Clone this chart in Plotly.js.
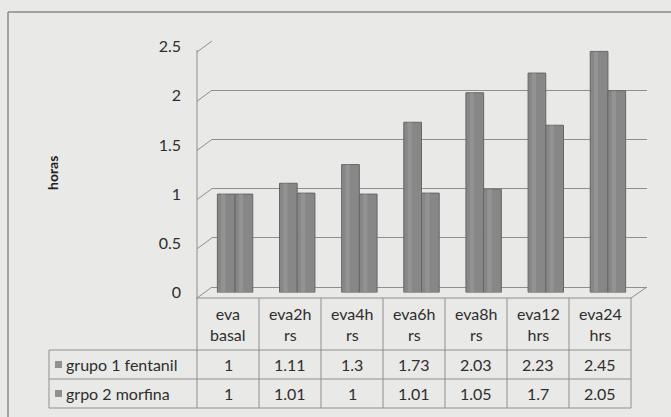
<!DOCTYPE html>
<html>
<head>
<meta charset="utf-8">
<script src="https://cdn.plot.ly/plotly-3.0.1.min.js"></script>
<style>html,body{margin:0;padding:0;background:#e9e9e7;}#chart{width:671px;height:417px;}</style>
</head>
<body>
<div id="chart"></div>
<script>
// ---- data ----
const categories = ["eva basal", "eva2h rs", "eva4h rs", "eva6h rs", "eva8h rs", "eva12 hrs", "eva24 hrs"];
const headerLabels = ["eva<br>basal", "eva2h<br>rs", "eva4h<br>rs", "eva6h<br>rs", "eva8h<br>rs", "eva12<br>hrs", "eva24<br>hrs"];
const fentanil = [1, 1.11, 1.3, 1.73, 2.03, 2.23, 2.45];
const morfina = [1, 1.01, 1, 1.01, 1.05, 1.7, 2.05];
const seriesNames = ["grupo 1 fentanil", "grpo 2 morfina"];
const tickVals = [0, 0.5, 1, 1.5, 2, 2.5];
const yTitle = "horas";

// ---- layout helpers (pixel -> paper) ----
const W = 671, H = 417;
const px = x => x / W;
const py = y => 1 - y / H;
const S = 98.4;                // px per unit
const front = {x0: 197, x1: 631, y0: 298};
const back  = {x0: 212, x1: 647, y0: 287};
const mid   = {x0: 204, x1: 639, y0: 292.5};
const ymax = 2.5;
const FONT = "Lato, Open Sans, sans-serif";
const TXT = "#2e2e2e";
const LINE = "#8f8f8f";
const BAR = "#878787";
const BARLINE = "#666666";
const HILITE = "#9c9c9c";

const shapes = [];
const annotations = [];
function line(x0, y0, x1, y1, color, w) {
  shapes.push({type: "line", xref: "paper", yref: "paper", x0: px(x0), y0: py(y0), x1: px(x1), y1: py(y1),
    line: {color: color || LINE, width: w || 1}, layer: "below"});
}

// outer frame (left + top)
line(8, 12, 8, 430, "#8a8a8a", 1.5);
line(8, 12, 680, 12, "#8a8a8a", 1.5);

// left wall: front vertical line and diagonals to the back wall
line(front.x0, front.y0 - S * ymax - 2, front.x0, front.y0);
tickVals.forEach(v => {
  line(front.x0, front.y0 - S * v, back.x0, back.y0 - S * v);
});
// floor right diagonal
line(front.x1, front.y0, back.x1, back.y0);

// table
const colW = (front.x1 - front.x0) / categories.length;
const tTop = 298, r1 = 350, r2 = 379, tBot = 408, legL = 49;
line(front.x0 - 1, tTop, front.x1, tTop);
line(legL, r1, front.x1, r1);
line(legL, r2, front.x1, r2);
line(legL, tBot, front.x1, tBot);
line(legL, r1, legL, tBot);
for (let i = 0; i <= categories.length; i++) {
  line(front.x0 + colW * i, tTop, front.x0 + colW * i, tBot);
}
const tfont = {family: FONT, size: 16, color: TXT};
categories.forEach((c, i) => {
  const cx = px(front.x0 + colW * (i + 0.5));
  annotations.push({xref: "paper", yref: "paper", x: cx, y: py((tTop + r1) / 2), text: headerLabels[i],
    showarrow: false, font: tfont, xanchor: "center", yanchor: "middle"});
  annotations.push({xref: "paper", yref: "paper", x: cx, y: py((r1 + r2) / 2), text: String(fentanil[i]),
    showarrow: false, font: tfont, xanchor: "center", yanchor: "middle"});
  annotations.push({xref: "paper", yref: "paper", x: cx, y: py((r2 + tBot) / 2), text: String(morfina[i]),
    showarrow: false, font: tfont, xanchor: "center", yanchor: "middle"});
});
// legend cells
[[r1, r2], [r2, tBot]].forEach((r, k) => {
  const cy = (r[0] + r[1]) / 2;
  shapes.push({type: "rect", xref: "paper", yref: "paper", x0: px(55), x1: px(62), y0: py(cy - 3.5), y1: py(cy + 3.5),
    fillcolor: "#909090", line: {width: 0}});
  annotations.push({xref: "paper", yref: "paper", x: px(64), y: py(cy), text: seriesNames[k],
    showarrow: false, font: tfont, xanchor: "left", yanchor: "middle"});
});
// y title
annotations.push({xref: "paper", yref: "paper", x: px(52), y: py(173), text: "<b>" + yTitle + "</b>",
  textangle: -90, showarrow: false, font: {family: FONT, size: 14, color: "#222"}, xanchor: "center", yanchor: "middle"});

// bar geometry in category units (width of one cylinder and its highlight stripe)
const bw = 0.285, hw = 0.07, hoff = 0.06;
function cyl(name, vals, off) {
  return [
    {type: "bar", name: name, x: categories, y: vals, xaxis: "x2", yaxis: "y2", width: bw, offset: off,
      marker: {color: BAR, line: {color: BARLINE, width: 1}}},
    {type: "bar", name: name, x: categories, y: vals, xaxis: "x2", yaxis: "y2", width: hw, offset: off + hoff,
      marker: {color: HILITE, opacity: 0.55, line: {width: 0}}, hoverinfo: "skip"}
  ];
}
const traces = [
  // empty trace so the back-wall grid subplot exists
  {type: "scatter", x: [], y: [], xaxis: "x", yaxis: "y", showlegend: false, hoverinfo: "skip"}
].concat(cyl(seriesNames[0], fentanil, -bw), cyl(seriesNames[1], morfina, 0));

const layout = {
  width: W, height: H,
  margin: {l: 0, r: 0, t: 0, b: 0},
  paper_bgcolor: "#e9e9e7",
  plot_bgcolor: "rgba(0,0,0,0)",
  showlegend: false,
  barmode: "overlay",
  font: {family: FONT, color: TXT},
  xaxis: {domain: [px(back.x0), px(back.x1)], range: [0, 1], visible: false, fixedrange: true},
  yaxis: {domain: [py(back.y0), py(back.y0 - S * ymax)], range: [0, ymax], tickvals: tickVals,
    showgrid: true, gridcolor: LINE, gridwidth: 1, zeroline: true, zerolinecolor: LINE, zerolinewidth: 1,
    showticklabels: false, ticks: "", showline: false, fixedrange: true},
  xaxis2: {domain: [px(mid.x0), px(mid.x1)], type: "category", range: [-0.5, 6.5], anchor: "y2",
    showticklabels: false, showgrid: false, zeroline: false, ticks: "", showline: false, fixedrange: true},
  yaxis2: {domain: [py(mid.y0), py(mid.y0 - S * ymax)], range: [0, ymax], tickvals: tickVals,
    anchor: "free", position: px(front.x0), showgrid: false, zeroline: false, showline: false, ticks: "",
    ticklabelstandoff: 16, ticklabelshift: -5.5,
    tickfont: {family: FONT, size: 16, color: TXT}, fixedrange: true},
  shapes: shapes,
  annotations: annotations
};

Plotly.newPlot("chart", traces, layout, {displayModeBar: false, staticPlot: true});
</script>
</body>
</html>
